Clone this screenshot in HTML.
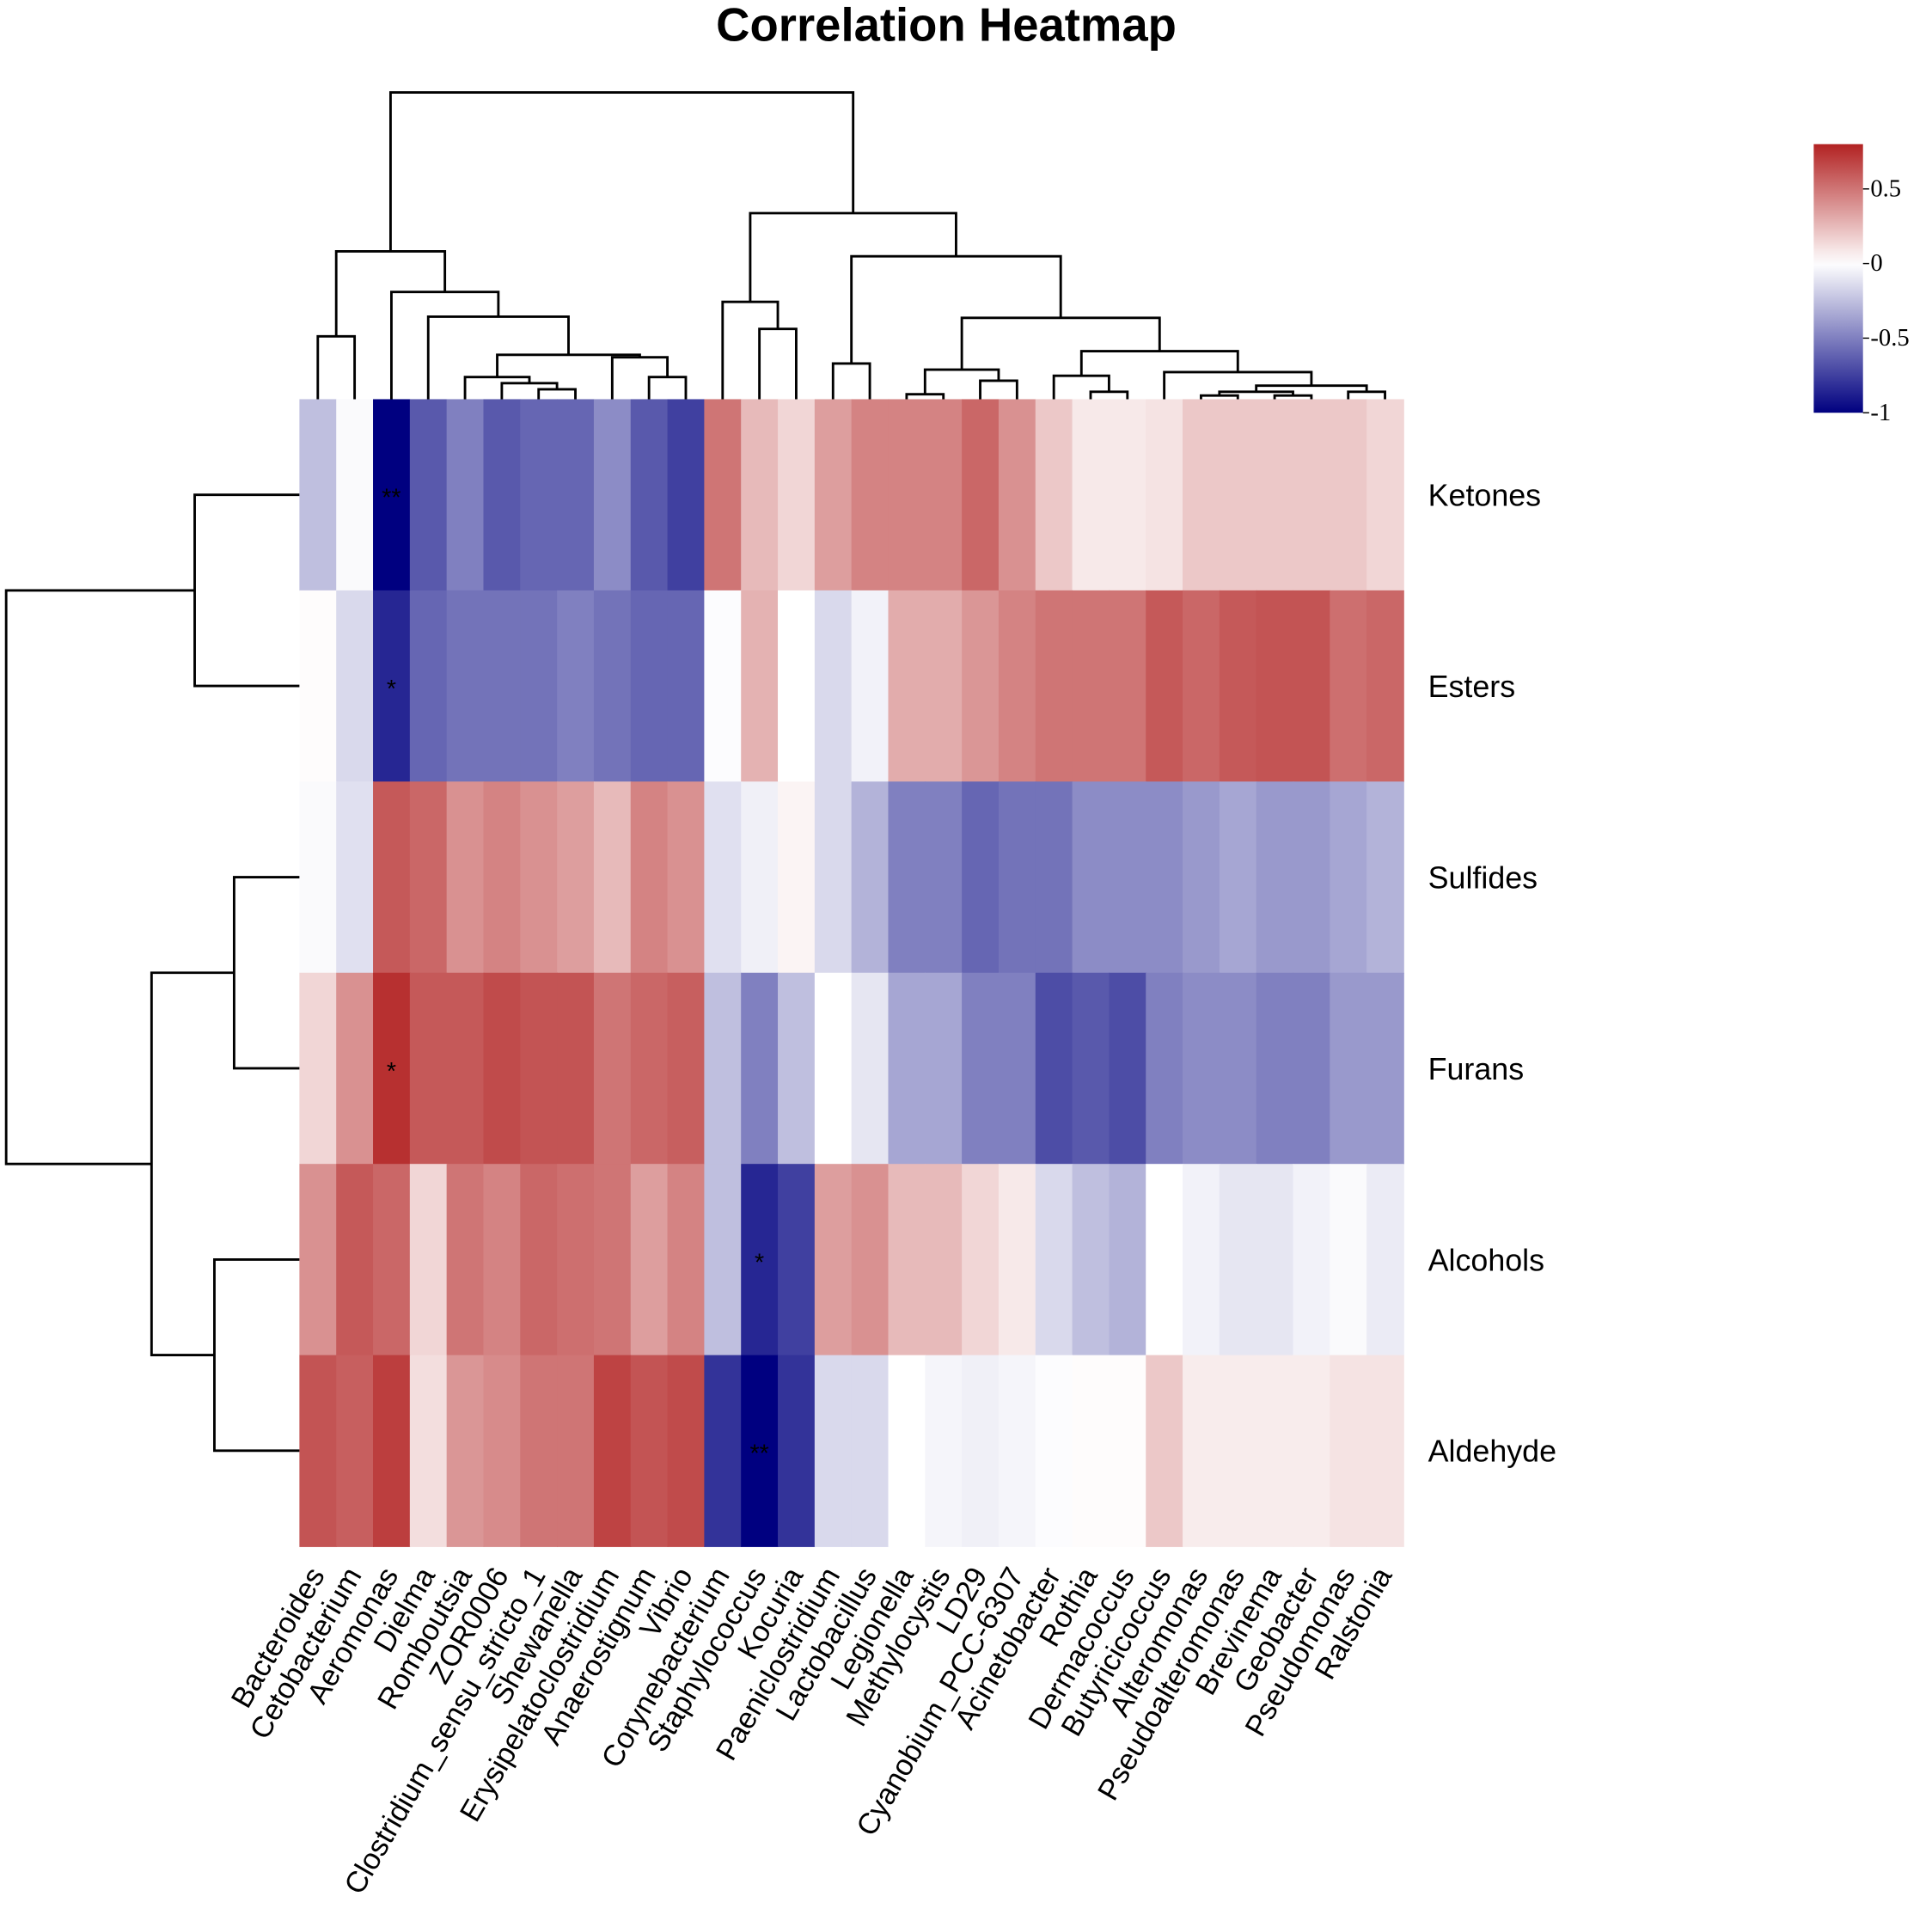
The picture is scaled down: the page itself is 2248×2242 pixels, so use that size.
<!DOCTYPE html>
<html><head><meta charset="utf-8"><style>html,body{margin:0;padding:0;background:#fff}svg{display:block}</style></head>
<body>
<svg id="chart" xmlns="http://www.w3.org/2000/svg" width="2248" height="2242" viewBox="0 0 1568 1564" preserveAspectRatio="none" font-family="Liberation Sans, Arial, sans-serif">
<rect width="1568" height="1564" fill="#fff"/>
<text x="768" y="33" text-anchor="middle" font-size="38" font-weight="bold">Correlation Heatmap</text>
<g id="cells"></g>
<g id="stars"></g>
<g id="collabels" font-size="24"></g>
<g id="rowlabels" font-size="25"></g>
<g id="coldendro" stroke="#000" stroke-width="2" fill="none"></g>
<g id="rowdendro" stroke="#000" stroke-width="2" fill="none"></g>
<g id="legend"></g>
</svg>
<script>
const columns = ["Bacteroides","Cetobacterium","Aeromonas","Dielma","Romboutsia","ZOR0006","Clostridium_sensu_stricto_1","Shewanella","Erysipelatoclostridium","Anaerostignum","Vibrio","Corynebacterium","Staphylococcus","Kocuria","Paeniclostridium","Lactobacillus","Legionella","Methylocystis","LD29","Cyanobium_PCC-6307","Acinetobacter","Rothia","Dermacoccus","Butyricicoccus","Alteromonas","Pseudoalteromonas","Brevinema","Geobacter","Pseudomonas","Ralstonia"];
const rows = ["Ketones","Esters","Sulfides","Furans","Alcohols","Aldehyde"];
const ketones = [-0.25,-0.02,-1,-0.65,-0.5,-0.65,-0.6,-0.6,-0.45,-0.65,-0.75,0.5,0.25,0.15,0.35,0.45,0.45,0.45,0.55,0.4,0.2,0.08,0.08,0.1,0.2,0.2,0.2,0.2,0.2,0.15];
const esters = [0.01,-0.15,-0.85,-0.6,-0.55,-0.55,-0.55,-0.5,-0.55,-0.6,-0.6,-0.01,0.28,0,-0.15,-0.05,0.3,0.3,0.38,0.45,0.5,0.5,0.5,0.6,0.55,0.6,0.62,0.62,0.52,0.55];
const sulfides = [-0.02,-0.12,0.6,0.55,0.4,0.45,0.4,0.35,0.25,0.45,0.4,-0.12,-0.06,0.04,-0.15,-0.3,-0.5,-0.5,-0.6,-0.55,-0.55,-0.45,-0.45,-0.45,-0.4,-0.35,-0.4,-0.4,-0.35,-0.3];
const furans = [0.15,0.4,0.75,0.6,0.6,0.65,0.62,0.62,0.5,0.55,0.58,-0.25,-0.5,-0.25,0,-0.1,-0.35,-0.35,-0.5,-0.5,-0.7,-0.65,-0.7,-0.5,-0.45,-0.45,-0.5,-0.5,-0.4,-0.4];
const alcohols = [0.4,0.6,0.55,0.15,0.5,0.45,0.55,0.52,0.5,0.35,0.45,-0.25,-0.85,-0.75,0.35,0.4,0.25,0.25,0.15,0.08,-0.15,-0.25,-0.3,0,-0.05,-0.1,-0.1,-0.05,-0.02,-0.08];
const aldehyde = [0.62,0.58,0.7,0.12,0.38,0.42,0.5,0.5,0.68,0.62,0.65,-0.8,-1,-0.8,-0.15,-0.15,0,-0.04,-0.06,-0.04,-0.01,0.01,0.01,0.2,0.07,0.07,0.07,0.07,0.1,0.1];
const starRows = [0,1,3,4,5];
const starCols = [2,2,2,12,12];
const starText = ["**","*","*","*","**"];
const legendTicks = [0.5,0,-0.5,-1];
const legendTickLabels = ["0.5","0","-0.5","-1"];

const values = [ketones,esters,sulfides,furans,alcohols,aldehyde];
const NS="http://www.w3.org/2000/svg";
const X0=243,X1=1139,Y0=324,Y1=1255;
const cw=(X1-X0)/columns.length, rh=(Y1-Y0)/rows.length;
const xAt=i=>X0+i*cw, yAt=j=>Y0+j*rh;
const VMIN=-1,VMAX=0.8;
function color(v){
  let a,b,t;
  if(v<0){a=[0,0,128];b=[255,255,255];t=(v-VMIN)/(0-VMIN);}
  else{a=[255,255,255];b=[178,34,34];t=v/VMAX;}
  t=Math.max(0,Math.min(1,t));
  return "rgb("+a.map((c,k)=>Math.round(c+(b[k]-c)*t)).join(",")+")";
}
function mk(tag,attrs,parent){const e=document.createElementNS(NS,tag);for(const k in attrs)e.setAttribute(k,attrs[k]);parent.appendChild(e);return e;}
const cells=document.getElementById('cells');
values.forEach((row,j)=>row.forEach((v,i)=>{
  const r=mk('rect',{x:xAt(i),y:yAt(j),width:cw+0.6,height:rh+0.6,fill:color(v)},cells);
  
  
}));
const stars=document.getElementById('stars');
starRows.forEach((j,k)=>{
  const t=mk('text',{x:xAt(starCols[k])+cw/2,y:yAt(j)+rh/2+9,'text-anchor':'middle','font-size':20},stars);
  t.textContent=starText[k];
  
  
});
const cl=document.getElementById('collabels');
columns.forEach((c,i)=>{
  const x=xAt(i)+cw/2-1,y=1274;
  const t=mk('text',{x:x,y:y,'text-anchor':'end',dy:'0.35em',transform:'rotate(-60 '+x+' '+y+')'},cl);
  t.textContent=c;
  
  
});
const rl=document.getElementById('rowlabels');
rows.forEach((r,j)=>{
  const t=mk('text',{x:1159,y:yAt(j)+rh/2+9},rl);
  t.textContent=r;
  
  
});
const cx=i=>xAt(i)+cw/2;
const cd=document.getElementById('coldendro');
function cmerge(a,ha,b,hb,h){mk('path',{d:`M${a},${ha}V${h}H${b}V${hb}`},cd);return (a+b)/2;}
const L=Y0;
let bc=cmerge(cx(0),L,cx(1),L,273);
let cs=cmerge(cx(6),L,cx(7),L,316);
let zc=cmerge(cx(5),L,cs,316,311);
let rz=cmerge(cx(4),L,zc,311,306);
let av=cmerge(cx(9),L,cx(10),L,306);
let ea=cmerge(cx(8),L,av,306,290);
let d1=cmerge(rz,306,ea,290,288);
let d2=cmerge(cx(3),L,d1,288,257);
let d3=cmerge(cx(2),L,d2,257,237);
let left=cmerge(bc,273,d3,237,204);
let sk=cmerge(cx(12),L,cx(13),L,267);
let csk=cmerge(cx(11),L,sk,267,245);
let pl=cmerge(cx(14),L,cx(15),L,295);
let lm=cmerge(cx(16),L,cx(17),L,320);
let lc=cmerge(cx(18),L,cx(19),L,309);
let S=cmerge(lm,320,lc,309,300);
let rd=cmerge(cx(21),L,cx(22),L,318);
let ar=cmerge(cx(20),L,rd,318,305);
let ap=cmerge(cx(24),L,cx(25),L,321);
let bg=cmerge(cx(26),L,cx(27),L,321);
let apbg=cmerge(ap,321,bg,321,318);
let pr=cmerge(cx(28),L,cx(29),L,318);
let V=cmerge(apbg,318,pr,318,313);
let W=cmerge(cx(23),L,V,313,302);
let T=cmerge(ar,305,W,302,285);
let R=cmerge(S,300,T,285,258);
let pr2=cmerge(pl,295,R,258,208);
let right=cmerge(csk,245,pr2,208,173);
cmerge(left,204,right,173,75);
const rdg=document.getElementById('rowdendro');
const ry=j=>yAt(j)+rh/2;
function rmerge(a,ha,b,hb,h){mk('path',{d:`M${ha},${a}H${h}V${b}H${hb}`},rdg);return (a+b)/2;}
const R0=X0;
let ke=rmerge(ry(0),R0,ry(1),R0,158);
let sf=rmerge(ry(2),R0,ry(3),R0,190);
let aa=rmerge(ry(4),R0,ry(5),R0,174);
let sfaa=rmerge(sf,190,aa,174,123);
rmerge(ke,158,sfaa,123,5);
const lg=document.getElementById('legend');
const LX=1472,LW=40,LT=117,LB=335;
const ly=v=>LT+(VMAX-v)/(VMAX-VMIN)*(LB-LT);
const grad=mk('linearGradient',{id:'lgrad',x1:0,y1:0,x2:0,y2:1},mk('defs',{},lg));
for(let k=0;k<=20;k++){const v=VMAX-(VMAX-VMIN)*k/20;mk('stop',{offset:k/20,'stop-color':color(v)},grad);}
const bar=mk('rect',{x:LX,y:LT,width:LW,height:LB-LT,fill:'url(#lgrad)'},lg);


legendTicks.forEach((v,k)=>{
  const y=ly(v);
  mk('line',{x1:LX+LW,x2:LX+LW+5,y1:y,y2:y,stroke:'#000','stroke-width':1},lg);
  const t=mk('text',{x:LX+LW+6,y:y+6,'font-size':20,'font-family':'Liberation Serif, serif'},lg);
  t.textContent=legendTickLabels[k];
  
  
});
</script>
</body></html>
